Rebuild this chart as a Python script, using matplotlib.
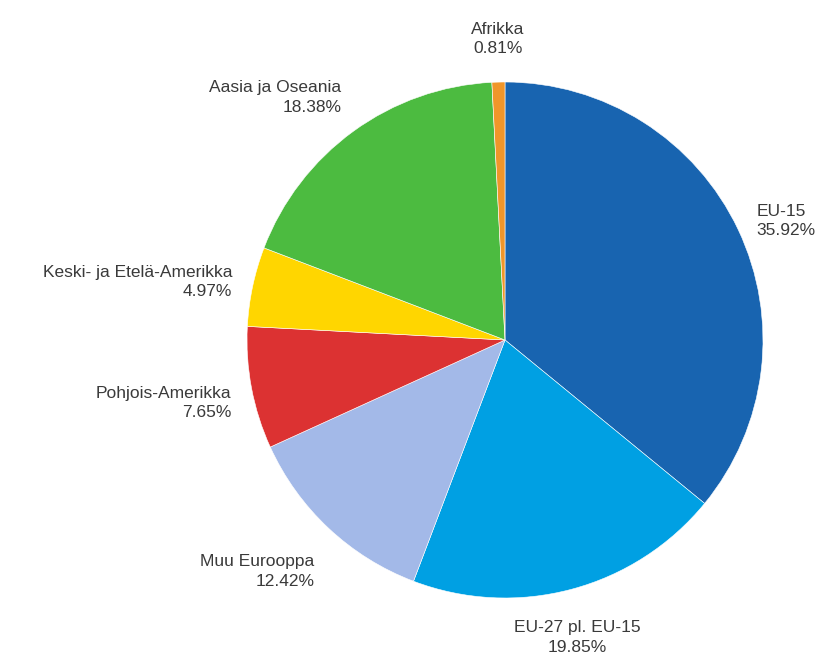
import matplotlib.pyplot as plt
import numpy as np

plt.rcParams['font.family'] = ['Liberation Sans', 'DejaVu Sans']

# Share by region (%)
labels = ['EU-15', 'EU-27 pl. EU-15', 'Muu Eurooppa', 'Pohjois-Amerikka',
          'Keski- ja Etelä-Amerikka', 'Aasia ja Oseania', 'Afrikka']
shares = [35.92, 19.85, 12.42, 7.65, 4.97, 18.38, 0.81]
colors = ['#1864b0', '#00a0e3', '#a3b9e8', '#dc3232', '#ffd600', '#4cbb40', '#f0962a']

fig = plt.figure(figsize=(8.22, 6.53), dpi=100)
# pie centre at about (505, 340) px, radius about 258 px
ax = fig.add_axes([247/822, 55/653, 516/822, 516/653])

wedges, _ = ax.pie(shares, colors=colors, startangle=90, counterclock=False,
                   radius=1.0, wedgeprops=dict(edgecolor='white', linewidth=0.4))

for w, lab, val in zip(wedges, labels, shares):
    ang = np.deg2rad((w.theta1 + w.theta2) / 2)
    c, s = np.cos(ang), np.sin(ang)
    ha = 'left' if c > 0.3 else ('right' if c < -0.3 else 'center')
    va = 'bottom' if s > 0.5 else ('top' if s < -0.5 else 'center')
    dy = -8 if s < -0.15 else (4 if s > 0.95 else 0)
    ax.annotate(f'{lab}\n{val:.2f}%', xy=(1.08 * c, 1.08 * s),
                xytext=(0, dy), textcoords='offset points',
                ha=ha, va=va, multialignment=ha, annotation_clip=False,
                fontsize=12.5, color='#3a3a3a', linespacing=1.35)

ax.set_xlim(-1, 1)
ax.set_ylim(-1, 1)
ax.axis('off')

fig.savefig('out.png', dpi=100)
